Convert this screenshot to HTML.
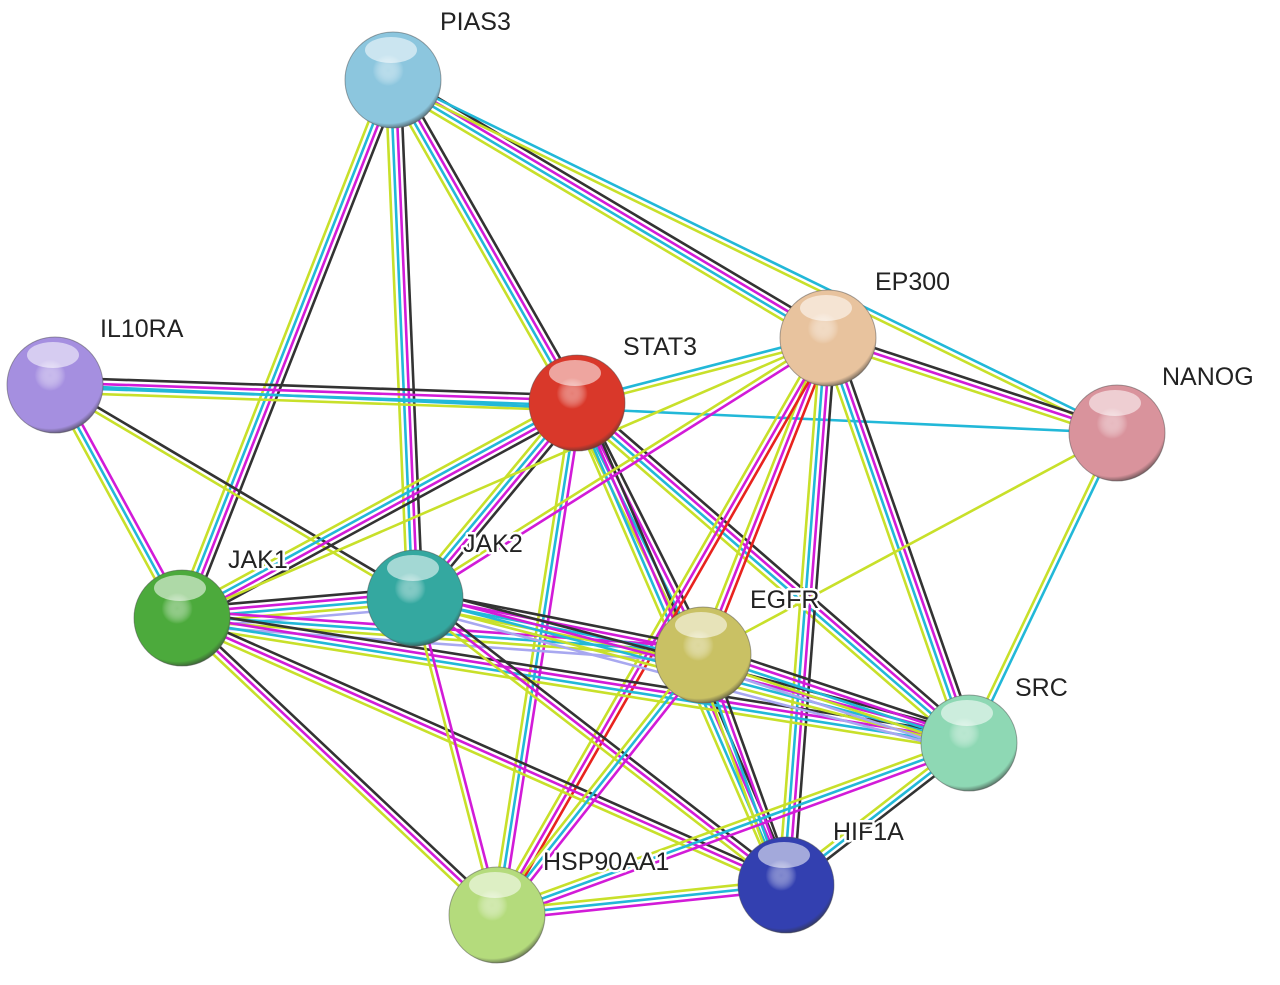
<!DOCTYPE html>
<html><head><meta charset="utf-8">
<style>
html,body{margin:0;padding:0;background:#fff;}
svg{display:block;}
text{font-family:"Liberation Sans",sans-serif;font-size:25px;fill:#222;stroke:#fff;stroke-width:5px;paint-order:stroke;stroke-linejoin:round;}
</style></head>
<body>
<svg id="s" width="1280" height="985" viewBox="0 0 1280 985" xmlns="http://www.w3.org/2000/svg">
<defs id="d"></defs>
<g id="edges"></g>
<g id="nodes"></g>
</svg>
<script>
var N={
PIAS3:[393,80,'#8cc6de','PIAS3',440,30],
IL10RA:[55,385,'#a58fe0','IL10RA',100,337],
STAT3:[577,403,'#d9382a','STAT3',623,355],
EP300:[828,338,'#e8c39e','EP300',875,290],
NANOG:[1117,433,'#d9939c','NANOG',1162,385],
JAK1:[182,618,'#4caa3c','JAK1',228,568],
JAK2:[415,598,'#34a8a0','JAK2',463,552],
EGFR:[703,655,'#c9c164','EGFR',750,608],
SRC:[969,743,'#8ed8b4','SRC',1015,696],
HIF1A:[786,885,'#3340b0','HIF1A',833,840],
HSP90AA1:[497,915,'#b4db7c','HSP90AA1',543,870]
};
var K='#333',M='#d21bd8',C='#22b8d8',Y='#c8e02a',R='#e8231e',L='#a8a8f0';
var E=[
['PIAS3','JAK1',[K,M,C,Y]],['PIAS3','JAK2',[K,M,C,Y]],['PIAS3','STAT3',[K,M,C,Y]],
['PIAS3','EP300',[K,M,C,Y]],['PIAS3','NANOG',[C,Y]],
['IL10RA','STAT3',[K,M,C,Y]],['IL10RA','JAK1',[M,C,Y]],['IL10RA','JAK2',[K,Y]],
['STAT3','EP300',[C,Y]],['IL10RA','NANOG',[C]],['STAT3','JAK1',[K,M,C,Y]],['STAT3','JAK2',[K,M,C,Y]],
['STAT3','EGFR',[K,M,C,Y]],['STAT3','SRC',[K,M,C,Y]],['STAT3','HIF1A',[K,M,C,Y]],
['STAT3','HSP90AA1',[M,C,Y]],['EP300','NANOG',[K,M,Y]],['EP300','JAK1',[Y]],
['EP300','JAK2',[M,Y]],['EP300','EGFR',[R,M,Y]],['EP300','SRC',[K,M,C,Y]],
['EP300','HIF1A',[K,M,C,Y]],['EP300','HSP90AA1',[R,M,Y]],['NANOG','SRC',[C,Y]],
['NANOG','EGFR',[Y]],['JAK1','JAK2',[K,M,C,Y,L]],['JAK1','EGFR',[M,C,Y,L]],
['JAK1','SRC',[K,M,C,Y]],['JAK1','HIF1A',[K,M,Y]],['JAK1','HSP90AA1',[K,M,Y]],
['JAK2','EGFR',[K,M,C,Y]],['JAK2','SRC',[K,M,C,Y,L]],['JAK2','HIF1A',[K,M,Y]],
['JAK2','HSP90AA1',[M,Y]],['EGFR','SRC',[K,M,C,Y,L]],['EGFR','HIF1A',[K,M,C,Y]],
['EGFR','HSP90AA1',[M,C,Y]],['SRC','HIF1A',[K,C,Y]],['SRC','HSP90AA1',[M,C,Y]],
['HIF1A','HSP90AA1',[M,C,Y]]
];
var ns='http://www.w3.org/2000/svg';
function el(t,a,p){var e=document.createElementNS(ns,t);for(var k in a)e.setAttribute(k,a[k]);p.appendChild(e);return e;}
var eg=document.getElementById('edges'),ng=document.getElementById('nodes'),d=document.getElementById('d');
E.forEach(function(e){
 var a=N[e[0]],b=N[e[1]],dx=b[0]-a[0],dy=b[1]-a[1],l=Math.sqrt(dx*dx+dy*dy),px=-dy/l,py=dx/l,n=e[2].length,sp=5;
 e[2].forEach(function(c,i){var o=(i-(n-1)/2)*sp;
  el('line',{x1:a[0]+px*o,y1:a[1]+py*o,x2:b[0]+px*o,y2:b[1]+py*o,stroke:c,'stroke-width':2.6},eg);});
});
var i=0;
for(var k in N){var n=N[k];i++;
 var g=el('radialGradient',{id:'g'+i,cx:'0.45',cy:'0.4',r:'0.65'},d);
 el('stop',{offset:'0','stop-color':'#fff','stop-opacity':'0.35'},g);
 el('stop',{offset:'0.25','stop-color':n[2]},g);
 el('stop',{offset:'0.85','stop-color':n[2]},g);
 el('stop',{offset:'1','stop-color':'#333'},g);
 el('circle',{cx:n[0],cy:n[1],r:48,fill:n[2]},ng);
 el('circle',{cx:n[0],cy:n[1],r:48,fill:'url(#g'+i+')',stroke:'#555','stroke-opacity':0.5,'stroke-width':1},ng);
 el('ellipse',{cx:n[0]-2,cy:n[1]-30,rx:26,ry:13,fill:'#fff','fill-opacity':0.55},ng);
}
for(var k in N){var n=N[k];var t=el('text',{x:n[4],y:n[5]},ng);t.textContent=n[3];}
</script>
</body></html>
